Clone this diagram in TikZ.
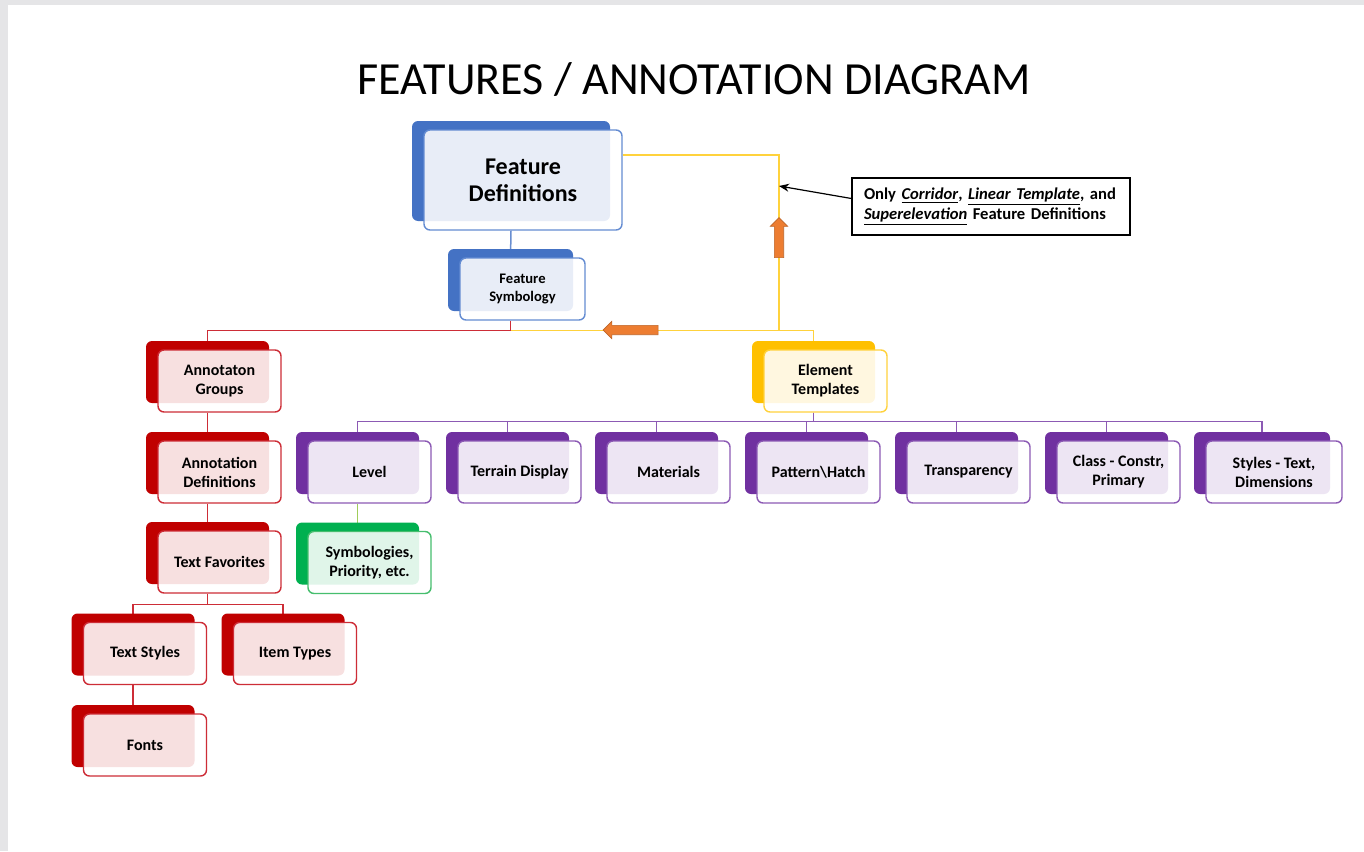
\documentclass[tikz,border=0pt]{standalone}
\usepackage{fontspec}
\setmainfont{Carlito}
\usetikzlibrary{arrows.meta,shapes.arrows,backgrounds}
\definecolor{cBlue}{RGB}{68,114,196}
\definecolor{cBlueLn}{RGB}{100,140,210}
\definecolor{cRed}{RGB}{192,0,0}
\definecolor{cRedLn}{RGB}{205,45,55}
\definecolor{cPurple}{RGB}{112,48,160}
\definecolor{cPurpleLn}{RGB}{140,90,180}
\definecolor{cGold}{RGB}{255,192,0}
\definecolor{cGoldLn}{RGB}{255,210,60}
\definecolor{cGreen}{RGB}{0,176,80}
\definecolor{cGreenLn}{RGB}{70,190,110}
\definecolor{cLime}{RGB}{160,205,90}
\definecolor{cOrange}{RGB}{237,125,49}
\definecolor{cFrame}{RGB}{229,229,231}
\tikzset{
  frontbox/.style={rectangle,rounded corners=3pt,fill=white,fill opacity=0.88,
                   text opacity=1,line width=0.7pt,align=center,
                   font=\bfseries\fontsize{8}{9.5}\selectfont,
                   minimum width=61.5pt,minimum height=31pt,inner sep=1pt},
  backbox/.style={preaction={fill=#1,fill opacity=1,draw=none,
                  transform canvas={shift={(-6pt,4.5pt)}}}},
  bluebox/.style={frontbox,backbox=cBlue,draw=cBlueLn},
  redbox/.style={frontbox,backbox=cRed,draw=cRedLn},
  purplebox/.style={frontbox,backbox=cPurple,draw=cPurpleLn},
  goldbox/.style={frontbox,backbox=cGold,draw=cGoldLn},
  greenbox/.style={frontbox,backbox=cGreen,draw=cGreenLn},
  notebox/.style={rectangle,draw=black,line width=0.6pt,align=left,
                  minimum width=139pt,minimum height=28.5pt,text width=127pt,
                  font=\bfseries\fontsize{8.3}{10}\selectfont},
  orarr/.style={single arrow,fill=cOrange,draw=cOrange!80!black,line width=0.3pt,
                minimum width=0pt,single arrow head extend=2pt,
                single arrow head indent=0pt,inner sep=2.2pt},
  blueln/.style={draw=cBlue!80,line width=0.75pt},
  redln/.style={draw=cRedLn,line width=0.75pt},
  yelln/.style={draw=cGoldLn,line width=0.75pt},
  purpln/.style={draw=cPurpleLn,line width=0.75pt},
  limeln/.style={draw=cLime,line width=0.75pt},
  notearr/.style={-{Stealth[length=5pt,width=4pt]},line width=0.6pt,color=black}
}
\begin{document}
\begin{tikzpicture}[x=0.5pt,y=-0.5pt]
  \useasboundingbox (0,0) rectangle (1364,851);
  \begin{scope}[on background layer]
    \fill[cFrame] (0,0) rectangle (1364,851);
    \fill[white] (8,5) rectangle (1364,851);
  \end{scope}

  \node (title) at (694,80) {\fontsize{23}{27}\selectfont FEATURES / ANNOTATION DIAGRAM};

  % feature definitions and symbology
  \node[bluebox,minimum width=99pt,minimum height=50pt,
        font=\bfseries\fontsize{12}{13.5}\selectfont] (fdef) at (523,180) {Feature\\Definitions};
  \node[bluebox,minimum width=62.5pt,font=\bfseries\fontsize{7.3}{8.7}\selectfont]
        (fsym) at (522.5,289) {Feature\\Symbology};

  % annotation side
  \node[redbox] (agrp) at (219.5,381) {Annotaton\\Groups};
  \node[redbox] (adef) at (219.5,472) {Annotation\\Definitions};
  \node[redbox] (tfav) at (219.5,562) {Text Favorites};
  \node[redbox] (tsty) at (145,653.5) {Text Styles};
  \node[redbox] (ityp) at (295,653.5) {Item Types};
  \node[redbox] (font) at (145,745) {Fonts};

  % element templates side
  \node[goldbox] (etmp) at (825.5,381) {Element\\Templates};
  \node[purplebox] (lvl) at (369.5,472) {Level};
  \node[purplebox] (ter) at (519.5,472) {Terrain Display};
  \node[purplebox] (mat) at (668.5,472) {Materials};
  \node[purplebox] (pat) at (818.5,472) {Pattern\textbackslash Hatch};
  \node[purplebox] (trn) at (968.5,472) {Transparency};
  \node[purplebox] (cls) at (1118.5,472) {Class - Constr,\\Primary};
  \node[purplebox,minimum width=68pt] (sty) at (1274,472) {Styles - Text,\\Dimensions};
  \node[greenbox] (symb) at (369.5,562.5) {Symbologies,\\Priority, etc.};

  % note
  \node[notebox] (note) at (991,206.5)
    {Only \underline{\textit{Corridor}}, \underline{\textit{Linear Template}}, and\\
     \underline{\textit{Superelevation}} Feature Definitions};
  \coordinate (yjn) at (779,330);
  \coordinate (ytip) at (779,186);
  \draw[notearr] ([yshift=4pt]note.west) -- (ytip);

  % orange block arrows
  \node[orarr,minimum height=27.5pt,shape border rotate=180] (larr) at (633,330) {};
  \node[orarr,minimum height=20pt,shape border rotate=90] (uarr) at (779,240) {};

  % connectors
  \begin{scope}[on background layer]
    \draw[blueln] ([xshift=-6pt]fdef.south) -- ([xshift=-6pt]fsym.north);
    \draw[yelln] ([xshift=-6pt]fsym.south) ++(0,10) -| ([xshift=-6pt]etmp.north);
    \draw[yelln] ([yshift=12.5pt]fdef.east) -| (yjn);
    \draw[redln] ([xshift=-6pt]fsym.south) -- ++(0,10) -| ([xshift=-6pt]agrp.north);
    \draw[redln] ([xshift=-6pt]agrp.south) -- ([xshift=-6pt]adef.north);
    \draw[redln] ([xshift=-6pt]adef.south) -- ([xshift=-6pt]tfav.north);
    \draw[redln] ([xshift=-6pt]tfav.south) -- ++(0,11) -| ([xshift=-6pt]tsty.north);
    \draw[redln] ([xshift=-6pt]tfav.south) -- ++(0,11) -| ([xshift=-6pt]ityp.north);
    \draw[redln] ([xshift=-6pt]tsty.south) -- ([xshift=-6pt]font.north);
    \foreach \n in {lvl,ter,mat,pat,trn,cls,sty}
      \draw[purpln] ([xshift=-6pt]etmp.south) -- ++(0,9) -| ([xshift=-6pt]\n.north);
    \draw[limeln] ([xshift=-6pt]lvl.south) -- ([xshift=-6pt]symb.north);
  \end{scope}
\end{tikzpicture}
\end{document}
